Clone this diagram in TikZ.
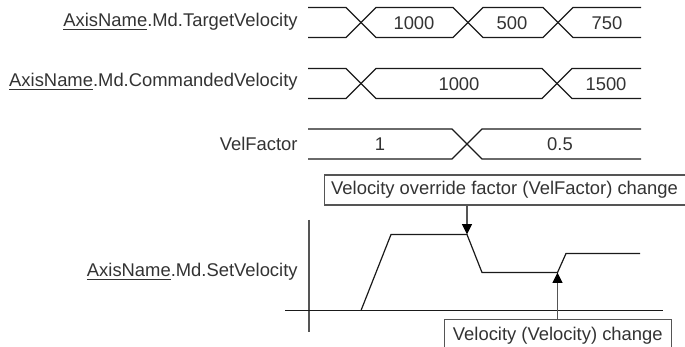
\documentclass[tikz,border=0pt]{standalone}
\usepackage{fontspec}
\setmainfont{Liberation Sans}
\usetikzlibrary{arrows.meta}
\definecolor{txt}{HTML}{333333}
\definecolor{ln}{HTML}{1A1A1A}
\definecolor{bx}{HTML}{555555}
\tikzset{
  lbl/.style={anchor=east, inner sep=0pt, text=txt, font=\fontsize{9.2pt}{11pt}\selectfont},
  val/.style={inner sep=0pt, text=txt, font=\fontsize{9.2pt}{11pt}\selectfont},
  wave/.style={draw=ln, line width=0.6pt, line join=miter},
  note/.style={draw=bx, line width=0.55pt, text=txt, inner sep=0pt, anchor=north west,
    font=\fontsize{9.2pt}{11pt}\selectfont},
  evt/.style={draw=bx, line width=0.6pt, -{Triangle[width=5pt,length=5.2pt,color=black]}}
}
\begin{document}
\begin{tikzpicture}[x=0.5pt,y=-0.5pt]
\useasboundingbox (0,0) rectangle (685,347);
\clip (0,0) rectangle (685,347);
% left labels
\node[lbl] (l1) at (298,22) {\underline{AxisName}.Md.TargetVelocity};
\node[lbl] (l2) at (298,82) {\underline{AxisName}.Md.CommandedVelocity};
\node[lbl] (l3) at (298,143.5) {VelFactor};
\node[lbl] (l4) at (298,272) {\underline{AxisName}.Md.SetVelocity};
% row 1: TargetVelocity
\draw[wave] (308,7.5) -- (346,7.5) -- (376,37.5) -- (453,37.5) -- (483,7.5) -- (543,7.5) -- (573,37.5) -- (641,37.5);
\draw[wave] (308,37.5) -- (346,37.5) -- (376,7.5) -- (453,7.5) -- (483,37.5) -- (543,37.5) -- (573,7.5) -- (641,7.5);
\node[val] (v11) at (414,23) {1000};
\node[val] (v12) at (512,23) {500};
\node[val] (v13) at (607,23) {750};
% row 2: CommandedVelocity
\draw[wave] (308,68.5) -- (346,68.5) -- (376,98.5) -- (542,98.5) -- (572,68.5) -- (641,68.5);
\draw[wave] (308,98.5) -- (346,98.5) -- (376,68.5) -- (542,68.5) -- (572,98.5) -- (641,98.5);
\node[val] (v21) at (459,84) {1000};
\node[val] (v22) at (606,84) {1500};
% row 3: VelFactor
\draw[wave] (308,129) -- (452,129) -- (482,159) -- (641,159);
\draw[wave] (308,159) -- (452,159) -- (482,129) -- (641,129);
\node[val] (v31) at (380,144.5) {1};
\node[val] (v32) at (560,144.5) {0.5};
% SetVelocity axes
\draw[draw=bx, line width=0.55pt] (309,220) -- (309,332);
\draw[wave] (285,310.5) -- (663,310.5);
% profile
\draw[wave] (361,310.5) -- (391,234.5) -- (467,234.5) -- (482,272.5) -- (557.5,272.5) -- (566,253.5) -- (640,253.5);
\coordinate (p1) at (467,234.5);
\coordinate (p2) at (557.5,272.5);
% notes
\node[note, minimum width=180.5pt, minimum height=15pt] (n1) at (323.5,174.5) {Velocity override factor (VelFactor) change};
\node[note, minimum width=113.75pt, minimum height=16.5pt] (n2) at (443.5,319) {Velocity (Velocity) change};
\draw[evt] (n1.south -| p1) -- (p1);
\draw[evt] (n2.north -| p2) -- (p2);
\end{tikzpicture}
\end{document}
